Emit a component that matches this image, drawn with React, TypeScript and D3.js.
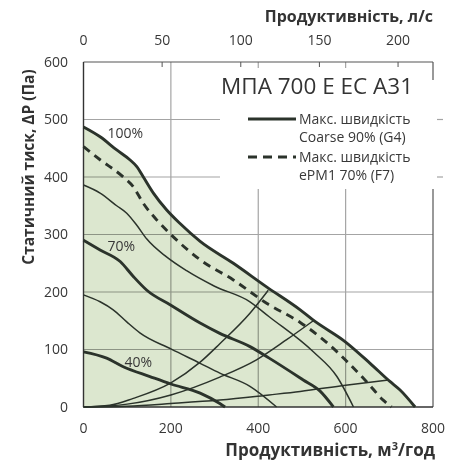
import React from "react";
import * as d3 from "d3";

// ---- data ----
const xTicks = [0, 200, 400, 600, 800];
const yTicks = [0, 100, 200, 300, 400, 500, 600];
const topTicks = [0, 50, 100, 150, 200];

// performance curves: [m³/h, Pa]
const curveMax100: [number, number][] = [[0,487],[38,470],[76,447],[106,430],[122,418],[137,400],[160,372],[190,343],[221,319],[267,288],[343,250],[419,209],[496,169],[526,151],[600,113],[656,76],[702,44],[724,30],[759,0]];
const curveF7: [number, number][] = [[0,453],[38,430],[91,400],[114,383],[137,354],[168,325],[200,300],[267,256],[343,221],[420,180],[496,147],[557,112],[602,80],[648,44],[686,12],[705,0]];
const curve90: [number, number][] = [[0,386],[38,372],[76,350],[99,337],[122,316],[145,292],[190,261],[236,237],[300,210],[381,183],[425,157],[526,96],[580,53],[618,0]];
const curve70: [number, number][] = [[0,290],[38,273],[84,253],[114,227],[145,203],[200,177],[267,146],[312,128],[381,105],[425,85],[503,47],[541,28],[572,0]];
const curve55: [number, number][] = [[0,195],[38,183],[68,169],[99,148],[129,129],[200,101],[267,76],[312,59],[381,36],[442,0]];
const curve40: [number, number][] = [[0,96],[53,85],[91,70],[152,53],[200,40],[267,24],[312,6],[324,0]];
// system curves
const sys1: [number, number][] = [[0,0],[60,3],[114,15],[200,42],[267,78],[312,110],[381,163],[423,203]];
const sys2: [number, number][] = [[0,0],[100,5],[200,21],[312,52],[396,82],[465,117],[526,150]];
const sys3: [number, number][] = [[0,0],[100,1.5],[200,6],[312,12],[425,21],[496,27],[600,38],[698,47]];

const pctLabels = [
  { text: "100%", x: 55, y: 468 },
  { text: "70%", x: 55, y: 272 },
  { text: "40%", x: 94, y: 70 },
];

const modelName = "МПА 700 Е ЕС А31";
const legendItems = [
  { dashed: false, lines: ["Макс. швидкість", "Coarse 90% (G4)"] },
  { dashed: true, lines: ["Макс. швидкість", "ePM1 70% (F7)"] },
];

const FONT = "'Open Sans', 'Noto Sans', sans-serif";
const INK = "#2b332b";
const TXT = "#383838";

export default function App() {
  const L = 83.5, R = 433, T = 62, B = 407;
  const x = d3.scaleLinear().domain([0, 800]).range([L, R]);
  const xTop = d3.scaleLinear().domain([0, 800 / 3.6]).range([L, R]);
  const y = d3.scaleLinear().domain([0, 600]).range([B, T]);

  const line = d3.line<[number, number]>().x(d => x(d[0])).y(d => y(d[1])).curve(d3.curveMonotoneX);
  const area = d3.area<[number, number]>().x(d => x(d[0])).y0(y(0)).y1(d => y(d[1])).curve(d3.curveMonotoneX);

  const thick = [curveMax100, curve70, curve40];
  const thin = [curve90, curve55, sys1, sys2, sys3];

  return (
    <svg width={450} height={463} style={{ position: "absolute", left: 0, top: 0, background: "#fff" }} fontFamily={FONT}>
      <rect x={0} y={0} width={450} height={463} fill="#fff" />
      {/* green operating area */}
      <path d={area(curveMax100) || ""} fill="#dce7cf" />
      {/* grid */}
      <g style={{ mixBlendMode: "multiply" }} stroke="#a4a4a4" strokeWidth={1.2}>
        {yTicks.slice(1, -1).map(t => (
          <line key={"gy" + t} x1={L} x2={R} y1={y(t)} y2={y(t)} />
        ))}
        {xTicks.slice(1, -1).map(t => (
          <line key={"gx" + t} x1={x(t)} x2={x(t)} y1={T} y2={B} />
        ))}
        <line x1={R} x2={R + 10} y1={y(500)} y2={y(500)} />
        <line x1={R} x2={R + 10} y1={y(400)} y2={y(400)} />
      </g>
      {/* legend background */}
      <rect x={220} y={68} width={217} height={121} fill="#fff" />
      {/* frame */}
      <g stroke="#555" strokeWidth={1.2} fill="none">
        <line x1={L} x2={R} y1={T} y2={T} />
        <line x1={R} x2={R} y1={T} y2={80} />
        <line x1={R} x2={R} y1={189} y2={B} />
      </g>
      <g stroke="#333" strokeWidth={1.4}>
        <line x1={L} x2={L} y1={T} y2={B} />
        <line x1={L} x2={R} y1={B} y2={B} />
      </g>
      {/* top ticks */}
      <g stroke="#555" strokeWidth={1}>
        {topTicks.slice(1).map(t => (
          <line key={"tt" + t} x1={xTop(t)} x2={xTop(t)} y1={T} y2={T + 5} />
        ))}
      </g>
      {/* curves */}
      <g fill="none" stroke={INK} strokeLinejoin="round">
        {thin.map((c, i) => <path key={"thin" + i} d={line(c) || ""} strokeWidth={1.5} />)}
        {thick.map((c, i) => <path key={"thick" + i} d={line(c) || ""} strokeWidth={2.9} />)}
        <path d={line(curveF7) || ""} strokeWidth={2.9} strokeDasharray="8 6" />
      </g>
      {/* percent labels */}
      {pctLabels.map(p => (
        <text key={p.text} x={x(p.x)} y={y(p.y)} fontSize={14} fill={TXT}>{p.text}</text>
      ))}
      {/* tick labels */}
      {yTicks.map(t => (
        <text key={"yl" + t} x={68} y={y(t)} dy="0.35em" textAnchor="end" fontSize={14} fill={TXT}>{t}</text>
      ))}
      {xTicks.map(t => (
        <text key={"xl" + t} x={x(t)} y={433} textAnchor="middle" fontSize={14} fill={TXT}>{t}</text>
      ))}
      {topTicks.map(t => (
        <text key={"tl" + t} x={xTop(t)} y={45} textAnchor="middle" fontSize={14} fill={TXT}>{t}</text>
      ))}
      {/* axis titles */}
      <text x={433} y={22} textAnchor="end" fontSize={16} fontWeight="bold" fill="#333">Продуктивність, л/с</text>
      <text x={435} y={456} textAnchor="end" fontSize={17} fontWeight="bold" fill="#333">
        Продуктивність, м<tspan fontSize={11} dy={-6}>3</tspan><tspan dy={6}>/год</tspan>
      </text>
      <text transform="translate(34,167) rotate(-90)" textAnchor="middle" fontSize={15.5} fontWeight="bold" fill="#333">Статичний тиск, ΔP (Па)</text>
      {/* legend */}
      <text x={413} y={94} textAnchor="end" fontSize={22.5} fill="#333">{modelName}</text>
      {legendItems.map((it, i) => {
        const y0 = 119 + i * 38;
        return (
          <g key={"lg" + i}>
            <line x1={248} x2={296} y1={y0} y2={y0} stroke={INK} strokeWidth={2.8} strokeDasharray={it.dashed ? "9 6" : undefined} />
            {it.lines.map((s, j) => (
              <text key={j} x={299} y={y0 + 5 + j * 18} fontSize={14} fill={TXT}>{s}</text>
            ))}
          </g>
        );
      })}
    </svg>
  );
}
